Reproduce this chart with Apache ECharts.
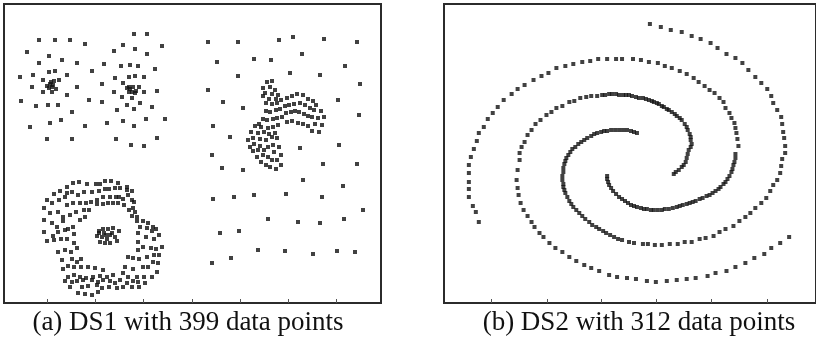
<!DOCTYPE html>
<html>
<head>
<meta charset="utf-8">
<script src="https://cdn.jsdelivr.net/npm/echarts@6/dist/echarts.min.js"></script>
<style>html,body{margin:0;padding:0;background:#fff;}#c{width:816px;height:347px;}</style>
</head>
<body>
<div id="c"></div>
<script>
// ---- DS1 (left panel) ----
const ds1TopLeft = [[39,40],[55,40],[70,40],[85,44],[134,34],[147,34],[162,46],[123,45],[114,51],[135,49],[147,54],[27,52],[49,56],[62,60],[39,63],[77,63],[104,64],[121,66],[130,65],[138,66],[155,69],[92,71],[49,72],[55,71],[20,77],[33,75],[43,80],[51,82],[54,81],[59,80],[67,75],[115,78],[129,77],[135,76],[144,77],[102,84],[123,83],[32,87],[49,88],[53,85],[56,89],[77,87],[129,87],[133,87],[139,87],[43,92],[52,92],[67,95],[114,92],[129,92],[132,92],[135,93],[144,92],[157,91],[122,97],[132,98],[21,101],[89,100],[102,102],[140,103],[36,106],[48,105],[58,105],[127,105],[134,109],[152,107],[72,112],[117,110],[61,120],[50,123],[30,127],[85,126],[107,123],[123,121],[134,126],[146,119],[165,119],[47,139],[72,139],[116,139],[157,138],[131,145],[144,146],[50,84],[47,86],[52,87],[130,89],[127,88],[136,91]];
const ds1Noise = [[208,42],[238,42],[279,40],[293,37],[324,39],[357,42],[217,62],[254,59],[271,60],[302,54],[345,66],[238,76],[290,73],[320,75],[360,84],[208,90],[223,102],[243,108],[338,100],[359,115],[213,126],[230,137],[339,145],[300,148],[212,155],[222,168],[243,170],[323,164],[357,164],[303,180],[343,186],[213,199],[234,197],[254,195],[286,194],[322,197],[363,210],[268,219],[298,222],[320,223],[344,219],[220,233],[239,231],[258,250],[285,251],[313,254],[337,251],[355,252],[231,258],[212,263]];
const ds1Banana = [[267,82],[272,81],[263,88],[270,87],[275,90],[265,93],[272,94],[278,95],[263,96],[269,99],[276,99],[281,100],[287,98],[292,96],[297,94],[303,95],[308,99],[313,101],[316,105],[266,103],[272,104],[277,103],[285,106],[289,105],[294,104],[300,103],[305,105],[310,108],[314,110],[321,111],[266,111],[270,112],[276,110],[280,109],[286,113],[291,112],[295,111],[299,112],[304,114],[308,116],[312,117],[318,118],[324,117],[263,119],[267,120],[273,119],[277,118],[282,117],[287,122],[292,121],[298,123],[303,124],[308,126],[315,124],[322,125],[259,124],[255,126],[261,127],[268,128],[273,127],[278,125],[251,132],[258,133],[264,132],[269,134],[275,133],[253,138],[260,139],[266,140],[272,137],[277,138],[248,140],[254,144],[260,146],[268,147],[273,145],[250,147],[312,131],[319,132],[279,147],[264,150],[258,150],[253,151],[274,152],[257,157],[263,155],[268,157],[272,160],[277,160],[281,155],[261,162],[266,165],[270,167],[276,169],[281,165]];
const ds1Ring = [[67,187],[73,183],[79,182],[87,184],[96,184],[100,184],[105,181],[111,181],[118,183],[127,187],[132,191],[54,194],[60,191],[67,193],[72,192],[78,195],[84,192],[92,192],[99,191],[105,189],[109,189],[115,188],[120,188],[127,190],[47,200],[52,203],[59,200],[65,197],[67,205],[73,203],[80,203],[86,203],[91,202],[97,200],[103,197],[110,197],[116,197],[119,197],[123,199],[128,195],[132,200],[134,202],[44,208],[50,213],[58,212],[63,217],[70,215],[76,212],[84,210],[89,210],[97,204],[103,204],[108,203],[113,203],[118,203],[124,205],[129,210],[133,208],[135,212],[44,220],[52,223],[57,227],[63,221],[68,229],[73,227],[80,220],[85,217],[132,216],[137,217],[137,221],[143,221],[148,223],[44,232],[53,236],[58,232],[65,230],[74,234],[140,227],[147,228],[153,227],[156,229],[138,233],[146,237],[152,231],[159,235],[47,241],[54,240],[61,239],[67,239],[74,243],[154,239],[138,242],[143,247],[151,248],[156,249],[162,247],[58,252],[65,250],[71,252],[77,248],[138,250],[154,255],[159,255],[133,258],[139,259],[147,257],[62,260],[72,259],[77,262],[81,259],[153,262],[158,263],[128,257],[63,269],[68,266],[74,267],[81,267],[88,267],[95,268],[103,270],[125,267],[133,269],[143,267],[148,267],[68,277],[74,275],[80,277],[86,278],[93,277],[100,276],[107,277],[113,275],[123,273],[128,277],[137,277],[144,277],[152,277],[157,272],[65,281],[72,282],[77,281],[83,280],[92,280],[98,282],[103,280],[110,281],[115,283],[120,280],[127,283],[133,281],[138,282],[145,283],[70,287],[82,287],[88,286],[97,285],[102,288],[109,287],[117,288],[123,287],[132,287],[139,287],[78,293],[85,294],[92,295],[98,292]];
const ds1Core = [[99,231],[103,229],[108,229],[113,228],[119,231],[97,236],[102,237],[106,235],[110,235],[115,237],[100,242],[105,243],[110,243],[117,241],[107,239],[104,233],[112,233],[99,233]];
const ds1Ticks = [47,95,143,192,240,288,336];

// ---- DS2 (right panel), three spiral arms ----
const ds2ArmA = [[608,176],[608,179],[609,182],[610,185],[612,188],[614,191],[617,194],[620,197],[623,199],[626,201],[629,203],[632,205],[635,206],[638,207],[642,208],[645,209],[648,209],[652,210],[655,210],[659,210],[663,210],[666,209],[670,209],[674,208],[678,207],[681,206],[684,205],[688,204],[691,203],[694,202],[697,201],[701,199],[704,198],[708,196],[711,195],[714,193],[717,191],[720,189],[722,187],[725,184],[727,182],[729,179],[731,176],[733,172],[734,169],[735,165],[736,162],[737,158],[737,154],[740,146],[739,139],[738,133],[737,128],[736,123],[733,118],[731,113],[727,108],[725,102],[721,98],[716,93],[711,90],[706,86],[700,82],[695,78],[688,74],[681,71],[673,68],[666,66],[659,63],[650,62],[642,60],[634,59],[623,59],[617,59],[608,59],[599,59],[591,61],[583,62],[574,64],[566,66],[557,68],[549,73],[542,76],[534,80],[525,85],[518,89],[512,94],[504,100],[498,107],[493,113],[488,119],[484,127],[479,133],[477,141],[474,149],[471,157],[469,165],[469,173],[469,182],[469,189],[469,197],[473,206],[476,212],[479,222]];
const ds2ArmB = [[675,174],[677,172],[680,170],[683,167],[685,165],[687,162],[688,158],[689,154],[690,150],[692,147],[693,144],[692,140],[692,137],[691,134],[689,130],[688,127],[686,124],[683,120],[681,118],[678,116],[676,114],[673,112],[670,110],[668,109],[665,107],[663,106],[660,104],[658,103],[655,102],[653,101],[650,100],[647,99],[644,98],[640,98],[637,97],[633,96],[630,95],[627,95],[624,95],[620,95],[617,94],[613,94],[610,94],[606,95],[603,95],[598,96],[592,96],[587,97],[581,98],[575,101],[570,102],[563,106],[557,108],[552,112],[547,115],[541,120],[536,124],[532,130],[528,135],[525,142],[522,147],[520,153],[520,160],[518,170],[517,180],[518,188],[519,195],[521,203],[524,210],[528,216],[532,222],[535,227],[540,233],[544,237],[550,243],[556,248],[563,252],[570,257],[577,261],[585,265],[592,268],[600,271],[610,275],[618,277],[628,278],[637,279],[648,281],[657,282],[668,281],[678,280],[688,279],[697,278],[709,276],[717,273],[728,271],[737,267],[747,263],[756,258],[766,254],[773,248],[782,243],[791,237]];
const ds2ArmC = [[638,133],[635,132],[632,131],[628,130],[624,130],[620,130],[616,130],[612,130],[608,131],[605,131],[602,132],[598,133],[595,134],[592,136],[588,138],[585,140],[582,142],[579,144],[576,147],[573,149],[571,152],[569,155],[567,158],[566,161],[565,164],[564,168],[564,172],[563,176],[563,180],[564,184],[564,187],[565,190],[566,193],[568,197],[570,201],[572,204],[574,207],[577,210],[580,213],[583,216],[586,219],[590,222],[593,225],[597,227],[600,229],[604,231],[607,233],[611,235],[615,237],[619,239],[623,240],[630,242],[635,243],[644,244],[649,244],[656,245],[663,245],[671,244],[679,244],[686,242],[693,242],[701,239],[707,238],[715,236],[721,232],[727,229],[735,226],[741,221],[747,217],[752,213],[757,208],[763,203],[768,198],[772,191],[775,185],[779,180],[782,173],[783,166],[784,159],[787,153],[787,146],[786,138],[785,132],[784,124],[783,117],[779,110],[775,103],[773,96],[769,89],[763,83],[757,77],[750,70],[744,63],[737,58],[728,54],[719,48],[712,43],[702,39],[693,36],[683,32],[672,30],[662,27],[651,24]];
const ds2Ticks = [492,548,602,657,713,769];

const captions = ['(a) DS1 with 399 data points', '(b) DS2 with 312 data points'];

const chart = echarts.init(document.getElementById('c'), null, {renderer: 'canvas'});
const border = '#2b2b2b';
function xAx(g, mn, mx, ticks) {
  return {gridIndex: g, type: 'value', min: mn, max: mx,
    axisLine: {show: false}, splitLine: {show: false}, axisLabel: {show: false},
    axisTick: {show: true, inside: true, length: 4, customValues: ticks, lineStyle: {color: '#555', width: 1}}};
}
function yAx(g, mn, mx) {
  return {gridIndex: g, type: 'value', inverse: true, min: mn, max: mx,
    axisLine: {show: false}, splitLine: {show: false}, axisLabel: {show: false}, axisTick: {show: false}};
}
function sc(idx, data) {
  return {type: 'scatter', xAxisIndex: idx, yAxisIndex: idx, data: data,
    symbol: 'rect', symbolSize: 4, itemStyle: {color: '#111'}, silent: true};
}
chart.setOption({
  animation: false,
  backgroundColor: '#fff',
  grid: [
    {left: 4, top: 4, width: 377, height: 299, show: true, borderColor: border, borderWidth: 2, backgroundColor: '#fff'},
    {left: 444, top: 4, width: 374, height: 299, show: true, borderColor: border, borderWidth: 2, backgroundColor: '#fff'}
  ],
  xAxis: [xAx(0, 4, 381, ds1Ticks), xAx(1, 444, 818, ds2Ticks)],
  yAxis: [yAx(0, 4, 303), yAx(1, 4, 303)],
  series: [
    sc(0, ds1TopLeft), sc(0, ds1Noise), sc(0, ds1Banana), sc(0, ds1Ring), sc(0, ds1Core),
    sc(1, ds2ArmA), sc(1, ds2ArmB), sc(1, ds2ArmC)
  ],
  graphic: [
    {type: 'text', x: 188, y: 323, style: {text: captions[0], fill: '#111', font: '27px "Liberation Serif"', textAlign: 'center', textVerticalAlign: 'middle'}},
    {type: 'text', x: 639, y: 323, style: {text: captions[1], fill: '#111', font: '27px "Liberation Serif"', textAlign: 'center', textVerticalAlign: 'middle'}}
  ]
});
</script>
</body>
</html>
